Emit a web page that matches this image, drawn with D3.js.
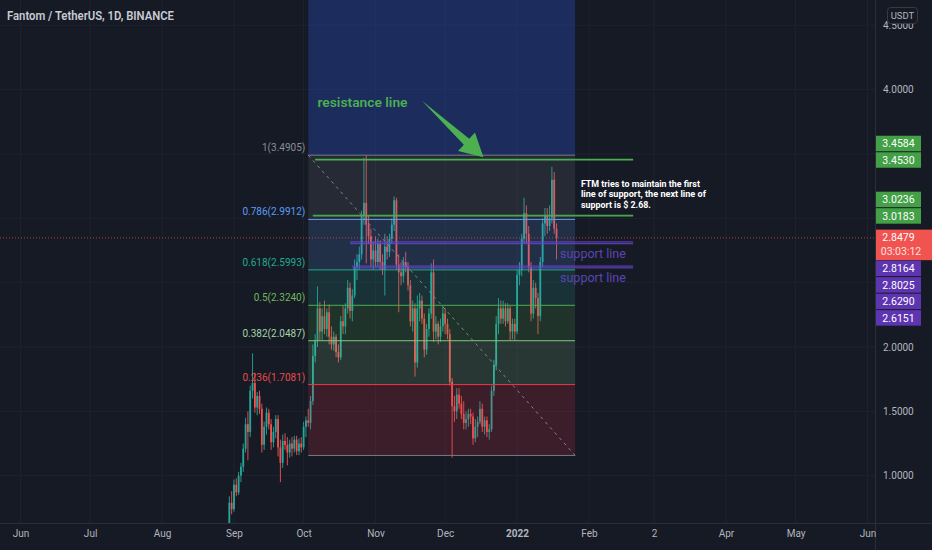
<!DOCTYPE html>
<html>
<head>
<meta charset="utf-8">
<script src="https://cdnjs.cloudflare.com/ajax/libs/d3/7.8.5/d3.min.js"></script>
<style>
  html, body { margin: 0; padding: 0; background: #161a25; }
  svg { display: block; }
  text { font-family: Roboto, "Liberation Sans", sans-serif; }
</style>
</head>
<body>
<div id="chart"></div>
<script>
// ---- candles (daily, FTM/USDT), first bar 2021-08-28, open = previous close
const firstDay = '2021-08-28';
const firstOpen = 0.52;

const closes = [
  0.56, 0.60, 0.79, 0.74,
  0.93, 0.87, 1.00, 1.07, 1.21, 1.40, 1.34, 1.66, 1.72, 1.53, 1.62, 1.52, 1.24, 1.38, 1.49,
  1.40, 1.26, 1.34, 1.44, 1.22, 1.10, 1.27, 1.24, 1.18, 1.25, 1.21, 1.28, 1.19, 1.25, 1.22,
  1.38, 1.43, 1.41, 1.58, 1.93, 2.05, 2.30, 2.12, 2.24, 2.14, 2.27, 2.08, 2.02, 2.08, 1.96,
  1.92, 2.20, 2.16, 2.30, 2.46, 2.28, 2.40, 2.62, 2.66, 2.72, 3.02, 3.12, 2.95, 2.86, 2.68, 2.75,
  2.66, 2.80, 2.66, 2.60, 2.78, 2.74, 2.84, 2.95, 3.14, 2.64, 2.58, 2.55, 2.66, 2.62, 2.48,
  2.20, 2.30, 1.88, 2.30, 2.36, 2.22, 1.98, 2.14, 2.26, 2.58, 2.12, 2.18, 2.08, 2.16, 2.26,
  2.18, 2.10, 1.73, 1.54, 1.50, 1.63, 1.56, 1.48, 1.41, 1.44, 1.48, 1.46, 1.29, 1.38, 1.42,
  1.52, 1.38, 1.43, 1.34, 1.36, 1.66, 1.86, 2.18, 2.30, 2.22, 2.30, 2.20, 2.30, 2.12, 2.18, 2.12,
  2.56, 2.60, 2.84, 3.04, 2.88, 2.62, 2.26, 2.46, 2.38, 2.24, 2.66, 2.96, 3.02, 2.94, 3.00,
  3.30, 2.92, 2.8479
];
const highs = [
  0.58, 0.62, 0.84, 0.88,
  0.97, 0.98, 1.03, 1.10, 1.25, 1.45, 1.50, 1.70, 1.95, 1.80, 1.65, 1.66, 1.56, 1.42, 1.53,
  1.52, 1.44, 1.38, 1.47, 1.47, 1.28, 1.32, 1.33, 1.30, 1.28, 1.30, 1.31, 1.31, 1.29, 1.30,
  1.42, 1.46, 1.52, 1.62, 2.02, 2.10, 2.47, 2.35, 2.30, 2.36, 2.30, 2.33, 2.16, 2.12, 2.10,
  2.02, 2.24, 2.32, 2.34, 2.52, 2.50, 2.45, 2.68, 2.72, 2.78, 3.06, 3.47, 3.49, 3.02, 2.92, 2.82,
  2.86, 2.84, 2.83, 2.72, 2.88, 2.86, 2.88, 3.00, 3.17, 3.16, 2.72, 2.66, 2.70, 2.74, 2.66,
  2.52, 2.36, 2.34, 2.40, 2.42, 2.40, 2.26, 2.18, 2.30, 2.65, 2.68, 2.24, 2.20, 2.22, 2.32,
  2.30, 2.22, 2.14, 1.76, 1.62, 1.68, 1.68, 1.62, 1.58, 1.50, 1.52, 1.52, 1.49, 1.44, 1.46,
  1.58, 1.56, 1.46, 1.46, 1.40, 1.70, 1.90, 2.24, 2.38, 2.36, 2.36, 2.34, 2.34, 2.32, 2.22, 2.22,
  2.60, 2.66, 2.88, 3.16, 3.10, 2.94, 2.66, 2.52, 2.50, 2.42, 2.70, 3.00, 3.08, 3.08, 3.10,
  3.40, 3.36, 2.96
];
const lows = [
  0.50, 0.54, 0.58, 0.70,
  0.72, 0.84, 0.85, 0.95, 1.03, 1.18, 1.12, 1.30, 1.60, 1.49, 1.47, 1.48, 1.18, 1.20, 1.32,
  1.36, 1.20, 1.22, 1.29, 1.15, 0.95, 1.06, 1.20, 1.08, 1.14, 1.15, 1.18, 1.16, 1.16, 1.18,
  1.20, 1.30, 1.38, 1.36, 1.55, 1.88, 2.00, 2.05, 2.05, 2.10, 2.08, 2.02, 1.98, 1.97, 1.92,
  1.88, 1.90, 2.10, 2.10, 2.26, 2.22, 2.20, 2.38, 2.52, 2.60, 2.68, 2.95, 2.65, 2.80, 2.62, 2.60,
  2.62, 2.62, 2.60, 2.56, 2.40, 2.68, 2.70, 2.80, 2.90, 2.60, 2.27, 2.48, 2.50, 2.58, 2.44,
  2.16, 2.12, 1.77, 1.84, 2.20, 2.18, 1.92, 1.94, 2.08, 2.22, 2.04, 2.06, 2.02, 2.04, 2.12,
  2.10, 2.06, 1.70, 1.14, 1.42, 1.44, 1.52, 1.44, 1.36, 1.36, 1.38, 1.40, 1.24, 1.26, 1.30,
  1.40, 1.34, 1.32, 1.30, 1.28, 1.34, 1.62, 1.82, 2.10, 2.18, 2.18, 2.16, 2.18, 2.05, 2.06, 2.05,
  2.10, 2.48, 2.55, 2.80, 2.80, 2.58, 2.20, 2.22, 2.30, 2.10, 2.20, 2.62, 2.86, 2.88, 2.90,
  2.96, 2.88, 2.68
];

// ---- axes
const timeTicks = ['2021-06-01', '2021-07-01', '2021-08-01', '2021-09-01', '2021-10-01', '2021-11-01',
  '2021-12-01', '2022-01-01', '2022-02-01', '2022-03-01', '2022-04-01', '2022-05-01', '2022-06-01'];
const timeTickLabels = ['Jun', 'Jul', 'Aug', 'Sep', 'Oct', 'Nov', 'Dec', '2022', 'Feb', '2', 'Apr', 'May', 'Jun'];
const priceTicks = [1.0, 1.5, 2.0, 2.5, 3.0, 3.5, 4.0, 4.5];

// ---- fib retracement drawing
const fibDates = ['2021-10-03', '2022-01-26'];
const fibHigh = 3.4905, fibLow = 1.1575;
const fibLevels = [1, 0.786, 0.618, 0.5, 0.382, 0.236, 0];

// ---- horizontal lines (pairs of prices) and their start dates
const linePrices = [[3.4584, 3.4530], [3.0236, 3.0183], [2.8164, 2.8025], [2.6290, 2.6151]];
const lineStarts = ['2021-10-06', '2021-10-05', '2021-10-21', '2021-10-22'];
const lineKinds = ['green', 'green', 'purple', 'purple'];
const lineEnd = '2022-02-20';

const lastPrice = 2.8479;
const countdown = '03:03:12';

// ---- annotations
const arrowFrom = ['2021-11-21', 3.914];
const arrowTo = ['2021-12-17T12:00', 3.474];
const resistanceText = ['2021-10-07', 3.865, 'resistance line'];
const supportTextDate = '2022-01-19T12:00';
const noteAnchor = ['2022-01-28T12:00', 3.243];
const noteLines = ['FTM tries to maintain the first', 'line of support, the next line of', 'support is $ 2.68.'];

// ---------------------------------------------------------------
const width = 932, height = 550;
const plotRight = 875, plotBottom = 523;
const bg = '#161a25';
const upColor = '#26a69a', downColor = '#ef5350';
const kindColor = {green: '#4caf50', purple: '#6a46d0'};
const fibColors = ['#787b86', '#5b9cf6', '#22ab94', '#4caf50', '#81c784', '#f23645', '#787b86'];
const fibTextColors = ['#8a8d96', '#5b9cf6', '#22ab94', '#6fb85a', '#a5d6a7', '#e74b4b'];

const parse = s => new Date(s.length > 10 ? s + 'Z' : s + 'T00:00Z');

const x = d3.scaleUtc()
  .domain([parse('2021-10-01'), parse('2022-06-01')])
  .range([303.6, 867.5]);
const y = d3.scaleLinear().domain([1, 2]).range([475.7, 347]);

const start = parse(firstDay);
const candles = closes.map((c, i) => ({
  date: d3.utcDay.offset(start, i),
  open: i ? closes[i - 1] : firstOpen,
  high: highs[i],
  low: lows[i],
  close: c
}));

const svg = d3.select('#chart').append('svg')
  .attr('width', width)
  .attr('height', height);

svg.append('rect').attr('width', width).attr('height', height).attr('fill', bg);

svg.append('defs').append('clipPath').attr('id', 'plot')
  .append('rect').attr('width', plotRight).attr('height', plotBottom);

const plot = svg.append('g').attr('clip-path', 'url(#plot)');

// grid
plot.append('g')
  .selectAll('line')
  .data(timeTicks)
  .enter().append('line')
  .attr('x1', d => x(parse(d))).attr('x2', d => x(parse(d)))
  .attr('y1', 0).attr('y2', plotBottom)
  .attr('stroke', '#1e2230');

plot.append('g')
  .selectAll('line')
  .data(priceTicks)
  .enter().append('line')
  .attr('x1', 0).attr('x2', plotRight)
  .attr('y1', d => y(d)).attr('y2', d => y(d))
  .attr('stroke', '#1e2230');

const fx1 = x(parse(fibDates[0])), fx2 = x(parse(fibDates[1]));
const fibPrice = l => fibLow + l * (fibHigh - fibLow);

// blue range box above the fib
plot.append('rect')
  .attr('x', fx1).attr('width', fx2 - fx1)
  .attr('y', y(5)).attr('height', y(fibHigh) - y(5))
  .attr('fill', 'rgba(41,98,255,0.26)');

// candles
const candleG = plot.append('g');
const col = d => d.close >= d.open ? upColor : downColor;

candleG.selectAll('.wick')
  .data(candles)
  .enter().append('line')
  .attr('class', 'wick')
  .attr('x1', d => x(d.date)).attr('x2', d => x(d.date))
  .attr('y1', d => y(d.high)).attr('y2', d => y(d.low))
  .attr('stroke', col)
  .attr('stroke-width', 0.9);

candleG.selectAll('.body')
  .data(candles)
  .enter().append('rect')
  .attr('class', 'body')
  .attr('x', d => x(d.date) - 0.9)
  .attr('width', 1.8)
  .attr('y', d => y(Math.max(d.open, d.close)))
  .attr('height', d => Math.max(1, Math.abs(y(d.open) - y(d.close))))
  .attr('fill', col);

// fib zones + levels
const fibG = plot.append('g');
fibLevels.slice(0, -1).forEach((l, i) => {
  const top = y(fibPrice(l)), bot = y(fibPrice(fibLevels[i + 1]));
  fibG.append('rect')
    .attr('x', fx1).attr('width', fx2 - fx1)
    .attr('y', top).attr('height', bot - top)
    .attr('fill', fibColors[i])
    .attr('fill-opacity', 0.17);
});

fibG.selectAll('line')
  .data(fibLevels)
  .enter().append('line')
  .attr('x1', fx1).attr('x2', fx2)
  .attr('y1', d => y(fibPrice(d))).attr('y2', d => y(fibPrice(d)))
  .attr('stroke', (d, i) => fibColors[i])
  .attr('stroke-width', 1);

fibG.append('line')
  .attr('x1', fx1).attr('y1', y(fibHigh))
  .attr('x2', fx2).attr('y2', y(fibLow))
  .attr('stroke', '#9598a1')
  .attr('stroke-dasharray', '3,4')
  .attr('stroke-opacity', 0.8);

fibG.selectAll('text')
  .data(fibLevels.slice(0, -1))
  .enter().append('text')
  .attr('x', fx1 - 3)
  .attr('y', d => y(fibPrice(d)) - 4)
  .attr('text-anchor', 'end')
  .attr('font-size', 10)
  .attr('fill', (d, i) => fibTextColors[i])
  .text(d => `${d}(${fibPrice(d).toFixed(4)})`);

// current price dotted line
plot.append('line')
  .attr('x1', 0).attr('x2', plotRight)
  .attr('y1', y(lastPrice)).attr('y2', y(lastPrice))
  .attr('stroke', downColor)
  .attr('stroke-opacity', 0.7)
  .attr('stroke-dasharray', '1,2');

// support / resistance lines
const xe = x(parse(lineEnd));
linePrices.forEach((pair, i) => {
  pair.forEach(p => {
    plot.append('line')
      .attr('x1', x(parse(lineStarts[i]))).attr('x2', xe)
      .attr('y1', y(p)).attr('y2', y(p))
      .attr('stroke', kindColor[lineKinds[i]])
      .attr('stroke-width', lineKinds[i] === 'purple' ? 1 : 1.2);
  });
  if (lineKinds[i] === 'purple') {
    plot.append('text')
      .attr('x', x(parse(supportTextDate)))
      .attr('y', y(pair[1]) + 14)
      .attr('font-size', 12.5)
      .attr('fill', '#5a45b4')
      .text('support line');
  }
});

// resistance text + arrow
plot.append('text')
  .attr('x', x(parse(resistanceText[0])))
  .attr('y', y(resistanceText[1]))
  .attr('font-size', 13.5)
  .attr('font-weight', 600)
  .attr('fill', '#4caf50')
  .attr('textLength', 90)
  .attr('lengthAdjust', 'spacingAndGlyphs')
  .text(resistanceText[2]);

const ax1 = x(parse(arrowFrom[0])), ay1 = y(arrowFrom[1]);
const ax2 = x(parse(arrowTo[0])), ay2 = y(arrowTo[1]);
const len = Math.hypot(ax2 - ax1, ay2 - ay1);
const ux = (ax2 - ax1) / len, uy = (ay2 - ay1) / len;
const nx = -uy, ny = ux;
const headLen = 23, headHalf = 12.5, shaftHalf = 4;
const bx = ax2 - ux * headLen, by = ay2 - uy * headLen;
const arrowPts = [
  [ax1, ay1],
  [bx + nx * shaftHalf, by + ny * shaftHalf],
  [bx + nx * headHalf, by + ny * headHalf],
  [ax2, ay2],
  [bx - nx * headHalf, by - ny * headHalf],
  [bx - nx * shaftHalf, by - ny * shaftHalf]
];
plot.append('polygon')
  .attr('points', arrowPts.map(p => p.join(',')).join(' '))
  .attr('fill', '#4caf50');

// note text, one text per line
const noteWidths = [119, 125, 70];
plot.append('g')
  .selectAll('text')
  .data(noteLines)
  .enter().append('text')
  .attr('x', x(parse(noteAnchor[0])))
  .attr('y', (d, i) => y(noteAnchor[1]) + i * 10.4)
  .attr('font-family', '"Liberation Sans Narrow", "DejaVu Sans Condensed", sans-serif')
  .attr('font-size', 9)
  .attr('font-weight', 'bold')
  .attr('fill', '#ffffff')
  .attr('textLength', (d, i) => noteWidths[i])
  .attr('lengthAdjust', 'spacingAndGlyphs')
  .text(d => d);

// axes separators
svg.append('line')
  .attr('x1', plotRight + 0.5).attr('x2', plotRight + 0.5)
  .attr('y1', 0).attr('y2', height)
  .attr('stroke', '#2a2e39');
svg.append('line')
  .attr('x1', 0).attr('x2', width)
  .attr('y1', plotBottom + 0.5).attr('y2', plotBottom + 0.5)
  .attr('stroke', '#2a2e39');

// bottom axis
const xAxis = d3.axisBottom(x)
  .tickValues(timeTicks.map(parse))
  .tickFormat((d, i) => timeTickLabels[i])
  .tickSize(0)
  .tickPadding(7);

svg.append('g')
  .attr('class', 'axis axis--x')
  .attr('transform', `translate(0, ${plotBottom})`)
  .call(xAxis)
  .call(g => g.select('.domain').remove())
  .selectAll('text')
  .attr('font-size', 10)
  .attr('font-family', 'Roboto, sans-serif')
  .attr('fill', '#b2b5be')
  .attr('font-weight', (d, i) => timeTickLabels[i] === '2022' ? 'bold' : 'normal');

// price labels, stacked away from the last-price label
const boxH = 16.5;
const labels = [];
linePrices.forEach((pair, i) => pair.forEach(p => labels.push({price: p, kind: lineKinds[i]})));
const lastY = y(lastPrice);
const lastTop = lastY - boxH / 2, lastBottom = lastTop + boxH * 1.85;

const above = labels.filter(d => d.price > lastPrice).sort((a, b) => a.price - b.price);
let limit = lastTop;
above.forEach(d => {
  d.cy = Math.min(y(d.price), limit - boxH / 2);
  limit = d.cy - boxH / 2;
});
const below = labels.filter(d => d.price < lastPrice).sort((a, b) => b.price - a.price);
limit = lastBottom;
below.forEach(d => {
  d.cy = Math.max(y(d.price), limit + boxH / 2);
  limit = d.cy + boxH / 2;
});

// boxes on the scale, used to hide ticks that would sit under them
const boxes = labels.map(d => [d.cy - boxH / 2, d.cy + boxH / 2]).concat([[lastTop, lastBottom]]);
const hidden = t => boxes.some(b => y(t) + 6 > b[0] && y(t) - 6 < b[1]);

// right price axis
const yAxis = d3.axisRight(y)
  .tickValues(priceTicks.filter(t => !hidden(t)))
  .tickFormat(d3.format('.4f'))
  .tickSize(0)
  .tickPadding(8);

svg.append('g')
  .attr('class', 'axis axis--y')
  .attr('transform', `translate(${plotRight}, 0)`)
  .call(yAxis)
  .call(g => g.select('.domain').remove())
  .selectAll('text')
  .attr('font-size', 10)
  .attr('font-family', 'Roboto, sans-serif')
  .attr('fill', '#b2b5be');

const labelG = svg.append('g');
labels.forEach(d => {
  labelG.append('rect')
    .attr('x', plotRight + 1).attr('y', d.cy - boxH / 2 + 0.5)
    .attr('width', 45).attr('height', boxH - 1)
    .attr('fill', d.kind === 'green' ? '#43a047' : '#5e35b1');
  labelG.append('text')
    .attr('x', plotRight + 23.5).attr('y', d.cy + 3.6)
    .attr('text-anchor', 'middle')
    .attr('font-size', 10.5)
    .attr('fill', '#ffffff')
    .text(d.price.toFixed(4));
});

labelG.append('rect')
  .attr('x', plotRight + 1).attr('y', lastTop)
  .attr('width', width - plotRight - 1).attr('height', lastBottom - lastTop)
  .attr('fill', '#f05350');
labelG.append('text')
  .attr('x', plotRight + 23.5).attr('y', lastY + 3.6)
  .attr('text-anchor', 'middle')
  .attr('font-size', 10.5)
  .attr('fill', '#ffffff')
  .text(lastPrice.toFixed(4));
labelG.append('text')
  .attr('x', plotRight + 26).attr('y', lastY + 3.6 + 14)
  .attr('text-anchor', 'middle')
  .attr('font-size', 10.5)
  .attr('fill', '#ffe0e0')
  .text(countdown);

// currency badge (sits over the top tick, as on the original)
svg.append('rect')
  .attr('x', 887.5).attr('y', 7.5)
  .attr('width', 30).attr('height', 16)
  .attr('rx', 3)
  .attr('fill', bg)
  .attr('stroke', '#363a45');
svg.append('text')
  .attr('x', 902.5).attr('y', 19)
  .attr('text-anchor', 'middle')
  .attr('font-size', 9.5)
  .attr('fill', '#b2b5be')
  .text('USDT');

// header
svg.append('text')
  .attr('x', 7).attr('y', 20)
  .attr('font-size', 12)
  .attr('font-weight', 600)
  .attr('fill', '#c8cbd3')
  .attr('textLength', 167)
  .attr('lengthAdjust', 'spacingAndGlyphs')
  .text('Fantom / TetherUS, 1D, BINANCE');
</script>
</body>
</html>
